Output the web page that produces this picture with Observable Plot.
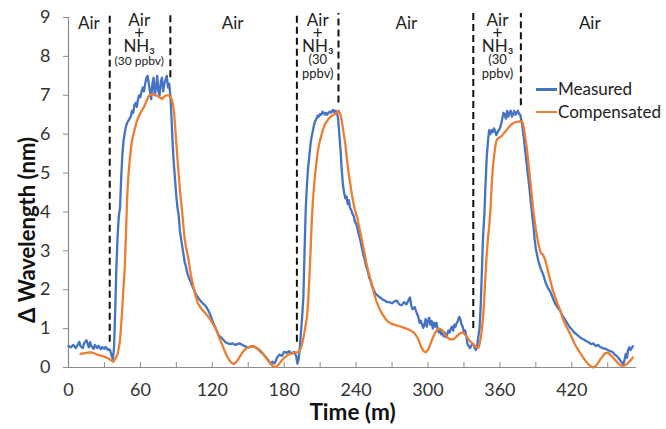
<!DOCTYPE html>
<html>
<head>
<meta charset="utf-8">
<script src="https://cdn.jsdelivr.net/npm/d3@7"></script>
<script src="https://cdn.jsdelivr.net/npm/@observablehq/plot@0.6"></script>
<style>
  html, body { margin: 0; padding: 0; background: #fff; }
  #wrap { position: relative; width: 666px; height: 429px; font-family: Lato, "Open Sans", sans-serif; }
  #legend { position: absolute; left: 536px; top: 78px; font-size: 17px; color: #222; line-height: 22.5px; }
  #legend div { display: flex; align-items: center; white-space: nowrap; }
  #legend span.sw { display: inline-block; width: 21px; height: 2.5px; margin-right: 1px; }
  #ytitle { position: absolute; left: 27px; top: 230px; transform: translate(-50%, -50%) rotate(-90deg);
            font-size: 22px; font-weight: bold; color: #111; white-space: nowrap; line-height: 1; }
</style>
</head>
<body>
<div id="wrap"><div id="legend"></div><div id="ytitle"></div></div>
<script>
// ---- data (time in minutes, Δ wavelength in nm) ----
const measured = [
  [0,0.55],[2,0.52],[4,0.58],[6,0.5],[8,0.6],[9,0.66],[10,0.55],[12,0.5],[13,0.62],[15,0.7],[16,0.6],[17,0.52],[18,0.65],[19,0.55],[21,0.48],[22,0.58],[24,0.5],[25,0.56],[27,0.47],[28,0.52],[30,0.48],[31,0.53],[33,0.45],[34,0.47],[35,0.42],[36,0.3],[37,0.22],
  [38,0.5],[39,1.5],[40,2.6],[41,3.4],[42,3.9],[43,4.1],[44,4.9],[45,5.5],[46,5.85],[47,6.05],[48,6.2],[49,6.3],[50,6.35],[52,6.45],[53,6.6],[54,6.55],[55,6.75],[56,6.8],[57,6.7],[58,6.9],[59,7.0],[60,6.95],[61,7.1],[62,7.2],[63,7.1],[64,7.3],[65,7.45],[66,7.5],[67,7.3],[68,7.1],[69,6.9],[70,7.3],[71,7.45],[72,7.0],[73,7.2],[74,7.5],[75,7.1],[76,7.0],[77,7.35],[78,7.45],[79,7.1],[80,7.3],[81,7.4],[82,7.5],[83,7.2],[84,7.3],[85,7.0],
  [86,6.4],[87,5.7],[88,5.2],[89,4.8],[90,4.4],[91,4.1],[92,3.9],[93,3.5],[94,3.3],[95,3.1],[96,2.9],[97,2.7],[98,2.6],[99,2.45],[100,2.35],[102,2.2],[104,2.05],[106,1.9],[108,1.8],[110,1.72],[112,1.65],[114,1.6],[115,1.55],[117,1.45],[119,1.3],[121,1.13],[123,1.0],[125,0.85],[127,0.78],[129,0.72],[131,0.65],[133,0.62],[135,0.6],[137,0.62],[139,0.58],[141,0.6],[143,0.62],[145,0.58],[147,0.55],[149,0.52],[151,0.52],[153,0.55],[155,0.54],[157,0.5],[159,0.45],[161,0.38],[163,0.33],[165,0.25],[167,0.18],[168,0.12],[169,0.08],[170,0.15],[172,0.1],[174,0.25],[176,0.33],[178,0.3],[180,0.4],[182,0.38],[184,0.42],[186,0.36],[188,0.4],[190,0.3],[191,0.1],[192,0.2],
  [193,0.5],[194,0.9],[195,1.3],[196,1.8],[197,3.0],[198,4.1],[199,4.7],[200,5.15],[201,5.45],[202,5.75],[203,5.95],[204,6.1],[205,6.25],[206,6.35],[207,6.4],[208,6.48],[209,6.45],[210,6.52],[211,6.5],[212,6.58],[213,6.55],[214,6.5],[215,6.55],[216,6.5],[217,6.55],[218,6.58],[219,6.55],[220,6.6],[221,6.62],[222,6.55],[223,6.6],[224,6.56],[225,6.4],
  [226,6.0],[227,5.6],[228,5.1],[229,4.7],[230,4.5],[231,4.35],[232,4.4],[233,4.2],[234,4.3],[235,4.1],[236,4.05],[237,3.95],[238,3.9],[239,3.75],[240,3.7],[241,3.6],[242,3.45],[243,3.35],[244,3.2],[245,3.05],[246,2.9],[247,2.8],[248,2.65],[249,2.55],[250,2.45],[251,2.3],[252,2.25],[253,2.12],[254,2.05],[255,1.98],[256,1.9],[257,1.88],[258,1.85],[260,1.8],[262,1.75],[264,1.72],[266,1.68],[268,1.68],[270,1.65],[272,1.7],[274,1.72],[276,1.62],[278,1.6],[280,1.68],[282,1.62],[284,1.75],[285,1.8],[286,1.6],[287,1.5],[289,1.55],[290,1.45],[292,1.3],[293,1.15],[294,1.2],[296,1.02],[297,1.1],[298,1.25],[299,1.05],[300,1.2],[301,1.28],[302,1.1],[303,1.2],[304,1.0],[305,1.15],[306,1.05],[307,1.15],[308,1.0],[309,0.9],[310,0.95],[311,0.85],[312,0.95],[313,0.8],[314,0.9],[315,0.78],[316,0.85],[317,0.95],[318,0.9],[319,1.0],[320,1.05],[321,0.95],[322,1.1],[323,1.05],[324,1.15],[325,1.2],[326,1.3],[327,1.25],[328,1.1],[329,1.05],[330,0.9],[331,0.95],[332,0.8],[333,0.6],[334,0.55],[335,0.5],[336,0.55],[337,0.62],[338,0.6],[339,0.5],[340,0.45],[341,0.55],[342,0.8],
  [343,1.0],[344,1.6],[345,2.5],[346,3.4],[347,3.9],[348,4.7],[349,5.4],[350,5.8],[351,6.1],[352,6.0],[353,6.1],[354,6.05],[355,6.15],[356,6.08],[357,5.98],[358,6.05],[359,6.1],[360,6.15],[361,6.25],[362,6.4],[363,6.55],[364,6.5],[365,6.4],[366,6.6],[367,6.45],[368,6.55],[369,6.6],[370,6.45],[371,6.52],[372,6.6],[373,6.5],[374,6.55],[375,6.6],[376,6.52],[377,6.5],
  [378,6.35],[379,6.15],[380,5.9],[381,5.6],[382,5.35],[383,5.05],[384,4.8],[385,4.5],[386,4.2],[387,3.9],[388,3.65],[389,3.3],[390,3.05],[392,2.75],[394,2.55],[396,2.4],[398,2.2],[400,2.05],[402,1.95],[404,1.8],[406,1.65],[408,1.55],[410,1.47],[412,1.35],[414,1.25],[416,1.15],[418,1.05],[420,0.98],[422,0.9],[424,0.85],[426,0.8],[428,0.75],[430,0.72],[432,0.68],[434,0.65],[436,0.6],[438,0.62],[440,0.55],[442,0.58],[444,0.52],[446,0.5],[448,0.48],[450,0.45],[452,0.42],[454,0.4],[456,0.33],[458,0.28],[460,0.2],[462,0.12],[463,0.08],[464,0.2],[465,0.35],[466,0.25],[467,0.45],[468,0.52],[469,0.45],[470,0.5],[471,0.55]
];
const compensated = [
  [10,0.35],[12,0.36],[14,0.37],[16,0.38],[18,0.39],[20,0.38],[22,0.36],[24,0.33],[26,0.31],[28,0.3],[30,0.28],[32,0.25],[34,0.22],[36,0.18],[37.5,0.15],[39,0.22],[41,0.35],[42,0.5],[43,0.7],[44,1.1],[45,1.6],[46,2.1],[47,2.6],[48,3.5],[49,4.4],[50,4.95],[51,5.3],[52,5.6],[53,5.84],[55,6.1],[57,6.33],[59,6.48],[61,6.6],[63,6.7],[65,6.85],[67,6.98],[69,7.02],[71,7.03],[73,7.0],[75,6.97],[77,6.93],[78,6.9],[80,6.97],[82,7.0],[84,7.0],[86,6.9],[87,6.8],[88,6.6],[89,6.2],[90,5.75],[91,5.35],[92,4.95],[93,4.55],[94,4.25],[95,3.95],[96,3.6],[97,3.3],[98,3.1],[99,2.95],[100,2.8],[102,2.4],[104,2.1],[106,1.85],[108,1.65],[110,1.55],[112,1.47],[114,1.4],[116,1.33],[118,1.25],[120,1.15],[122,1.05],[124,0.92],[126,0.75],[128,0.6],[130,0.45],[132,0.31],[134,0.2],[136,0.12],[138,0.09],[140,0.14],[142,0.23],[144,0.33],[146,0.42],[148,0.48],[150,0.52],[152,0.54],[154,0.54],[156,0.52],[158,0.48],[160,0.44],[162,0.37],[164,0.28],[166,0.2],[168,0.12],[170,0.05],[172,0.01],[174,0.03],[176,0.1],[178,0.18],[180,0.25],[182,0.3],[184,0.34],[186,0.36],[188,0.38],[190,0.39],[192,0.39],[194,0.5],[196,0.75],[198,1.1],[199,1.3],[200,1.7],[201,2.3],[202,3.0],[203,3.77],[204,4.3],[205,4.7],[206,5.02],[207,5.3],[208,5.55],[209,5.72],[210,5.85],[212,6.08],[214,6.25],[216,6.35],[218,6.43],[220,6.48],[222,6.51],[224,6.56],[225.5,6.6],[227,6.5],[228,6.35],[229,6.15],[230,5.95],[231,5.75],[232,5.45],[233,5.2],[234,4.95],[235,4.75],[236,4.55],[237,4.35],[238,4.2],[239,4.05],[240,3.95],[241,3.85],[243,3.55],[245,3.25],[247,2.95],[249,2.62],[251,2.38],[253,2.15],[255,1.9],[257,1.7],[259,1.55],[261,1.42],[263,1.32],[265,1.23],[267,1.17],[270,1.12],[273,1.09],[276,1.06],[279,1.03],[282,1.0],[285,0.96],[288,0.9],[290,0.83],[292,0.72],[294,0.55],[296,0.43],[298,0.39],[300,0.45],[302,0.6],[304,0.76],[306,0.9],[308,0.98],[310,1.0],[312,0.95],[314,0.85],[316,0.78],[318,0.73],[320,0.72],[322,0.74],[324,0.8],[326,0.86],[328,0.9],[330,0.88],[332,0.8],[334,0.72],[336,0.65],[338,0.58],[340,0.53],[342,0.5],[343,0.6],[344,0.75],[345,1.0],[346,1.3],[347,1.8],[348,2.4],[349,2.9],[350,3.3],[351,3.6],[352,4.0],[353,4.6],[354,5.1],[355,5.4],[356,5.65],[357,5.82],[358,5.88],[360,5.92],[362,5.97],[364,6.05],[366,6.12],[368,6.2],[370,6.26],[372,6.3],[375,6.32],[377,6.33],[379,6.3],[380,6.15],[381,5.95],[382,5.75],[383,5.5],[384,5.2],[385,4.9],[386,4.6],[387,4.3],[388,4.0],[389,3.77],[390,3.55],[392,3.2],[394,2.95],[396,2.9],[398,2.75],[400,2.5],[402,2.25],[404,2.0],[406,1.82],[408,1.65],[410,1.5],[412,1.3],[414,1.15],[416,1.02],[418,0.9],[420,0.77],[422,0.63],[424,0.52],[426,0.42],[428,0.33],[430,0.23],[432,0.15],[434,0.08],[436,0.03],[438,0.0],[440,0.04],[442,0.12],[444,0.22],[446,0.3],[448,0.37],[450,0.38],[452,0.33],[454,0.27],[456,0.2],[458,0.13],[460,0.07],[462,0.04],[464,0.05],[466,0.09],[468,0.15],[470,0.22],[471,0.26]
];
const seriesNames = ["Measured", "Compensated"];
const seriesColors = ["#4472C4", "#ED7D31"];
const phaseBoundaries = [34.4, 85, 190.6, 225.3, 337.8, 377.5];
const boundaryBottoms = [0.65, 7.45, 0.65, 6.8, 1.0, 6.73];
const boundaryTop = 9.1;
const airLabelTimes = [17, 137, 282, 435];
const nh3LabelTimes = [59, 208, 358];
const nh3Text = "Air\n+\nNH₃";
const concText = ["(30 ppbv)", "(30\nppbv)", "(30\nppbv)"];
const xTicks = [30, 60, 90, 120, 150, 180, 210, 240, 270, 300, 330, 360, 390, 420, 450];
const xLabels = [0, 60, 120, 180, 240, 300, 360, 420];
const yTicks = [0, 1, 2, 3, 4, 5, 6, 7, 8, 9];
const xTitle = "Time (m)";
const yTitle = "Δ Wavelength (nm)";

const rows = [
  ...measured.map(([t, v]) => ({t, v, s: seriesNames[0]})),
  ...compensated.map(([t, v]) => ({t, v, s: seriesNames[1]}))
];
const bounds = phaseBoundaries.map((t, i) => ({t, y1: boundaryBottoms[i], y2: boundaryTop}));
const concRows = nh3LabelTimes.map((t, i) => ({t, label: concText[i], small: i === 0}));

const font = "Lato, 'Open Sans', sans-serif";
const plot = Plot.plot({
  width: 666, height: 429,
  marginLeft: 68, marginRight: 30, marginTop: 17, marginBottom: 62,
  style: {fontFamily: font, background: "#fff", color: "#222", overflow: "visible"},
  x: {domain: [0, 474]},
  y: {domain: [0, 9]},
  color: {domain: seriesNames, range: seriesColors},
  marks: [
    Plot.ruleY([0], {stroke: "#8c8c8c", strokeWidth: 1.2}),
    Plot.ruleX([0], {stroke: "#8c8c8c", strokeWidth: 1.2}),
    Plot.axisY({ticks: yTicks, tickSize: 5, tickPadding: 13, fontSize: 18, label: null, stroke: "#8c8c8c", fill: "#333"}),
    Plot.axisX({ticks: xTicks, tickSize: 5, dy: -5, tickFormat: () => "", label: null, stroke: "#8c8c8c"}),
    Plot.axisX({ticks: xLabels, tickSize: 0, tickPadding: 16, fontSize: 18, label: null, fill: "#333"}),
    Plot.line(rows, {x: "t", y: "v", z: "s", stroke: "s", strokeWidth: 2.3, strokeLinejoin: "round"}),
    Plot.ruleX(bounds, {x: "t", y1: "y1", y2: "y2", stroke: "#111", strokeWidth: 2, strokeDasharray: "7,4", clip: false}),
    Plot.text(airLabelTimes, {x: d => d, frameAnchor: "top", dy: -1, lineAnchor: "top", text: () => "Air", fontSize: 17, fill: "#222"}),
    Plot.text(nh3LabelTimes, {x: d => d, frameAnchor: "top", dy: -1, lineAnchor: "top", lineHeight: 0.78, text: () => nh3Text, fontSize: 17, fill: "#222"}),
    Plot.text(concRows.filter(d => d.small), {x: "t", frameAnchor: "top", dy: 39, lineAnchor: "top", text: "label", fontSize: 12, fill: "#222"}),
    Plot.text(concRows.filter(d => !d.small), {x: "t", frameAnchor: "top", dy: 37, lineAnchor: "top", lineHeight: 1.05, text: "label", fontSize: 13, fill: "#222"}),
    Plot.text([xTitle], {frameAnchor: "bottom", dy: 52, text: d => d, fontSize: 22.5, fontWeight: "bold", fill: "#111"})
  ]
});
document.getElementById("wrap").prepend(plot);
document.getElementById("ytitle").textContent = yTitle;

const legend = document.getElementById("legend");
seriesNames.forEach((name, i) => {
  const row = document.createElement("div");
  row.innerHTML = `<span class="sw" style="background:${seriesColors[i]}"></span>${name}`;
  legend.appendChild(row);
});
</script>
</body>
</html>
